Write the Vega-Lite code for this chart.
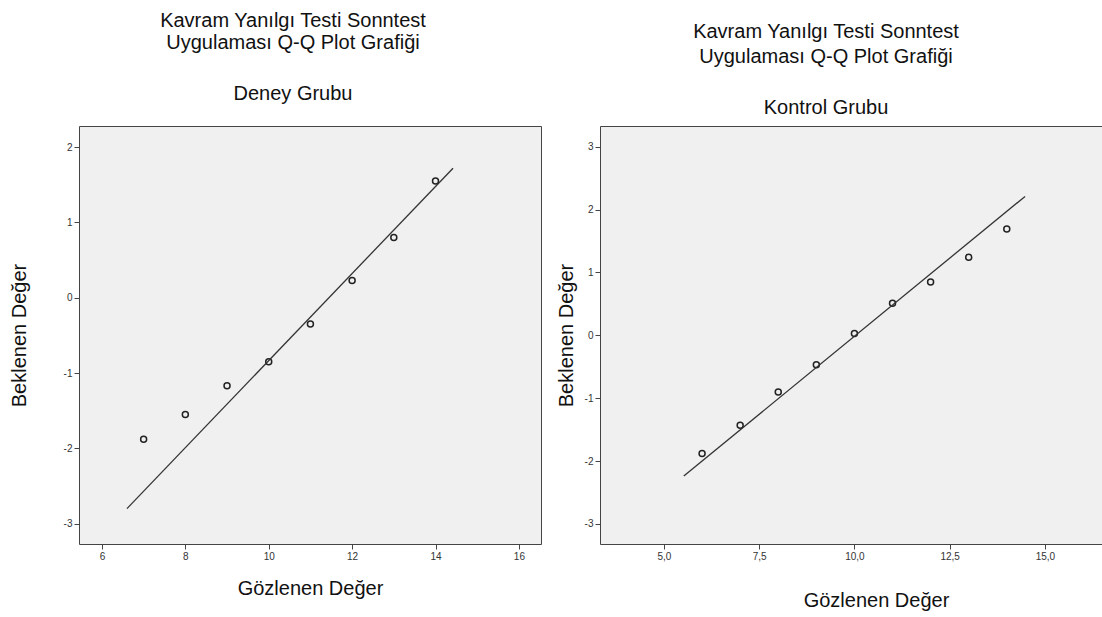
{
  "$schema": "https://vega.github.io/schema/vega-lite/v6.json",
  "padding": {"left": 8, "top": 10, "right": 0, "bottom": 0},
  "background": "white",
  "bounds": "flush",
  "spacing": 59,
  "datasets": {
    "deney": [
      {"gozlenen": 7, "beklenen": -1.88},
      {"gozlenen": 8, "beklenen": -1.55},
      {"gozlenen": 9, "beklenen": -1.17},
      {"gozlenen": 10, "beklenen": -0.85},
      {"gozlenen": 11, "beklenen": -0.35},
      {"gozlenen": 12, "beklenen": 0.23},
      {"gozlenen": 13, "beklenen": 0.8},
      {"gozlenen": 14, "beklenen": 1.55}
    ],
    "deneyLine": [
      {"gozlenen": 6.6, "beklenen": -2.8},
      {"gozlenen": 14.42, "beklenen": 1.72}
    ],
    "kontrol": [
      {"gozlenen": 6, "beklenen": -1.88},
      {"gozlenen": 7, "beklenen": -1.43},
      {"gozlenen": 8, "beklenen": -0.9},
      {"gozlenen": 9, "beklenen": -0.47},
      {"gozlenen": 10, "beklenen": 0.03},
      {"gozlenen": 11, "beklenen": 0.51},
      {"gozlenen": 12, "beklenen": 0.85},
      {"gozlenen": 13, "beklenen": 1.24},
      {"gozlenen": 14, "beklenen": 1.69}
    ],
    "kontrolLine": [
      {"gozlenen": 5.52, "beklenen": -2.24},
      {"gozlenen": 14.48, "beklenen": 2.21}
    ]
  },
  "config": {
    "font": "Liberation Sans",
    "view": {"fill": "#F0F0F0", "stroke": "#444444", "strokeWidth": 1},
    "axis": {
      "grid": false,
      "domain": false,
      "tickColor": "#444444",
      "tickSize": 5,
      "labelFont": "Liberation Sans",
      "labelFontSize": 10,
      "labelColor": "#333333",
      "titleFont": "Liberation Sans",
      "titleFontSize": 20,
      "titleFontWeight": "normal",
      "titleColor": "#111111"
    },
    "title": {
      "font": "Liberation Sans",
      "fontSize": 20,
      "fontWeight": "normal",
      "color": "#111111",
      "subtitleFont": "Liberation Sans",
      "subtitleFontSize": 20,
      "subtitleColor": "#111111",
      "anchor": "middle"
    }
  },
  "hconcat": [
    {
      "width": 462,
      "height": 418,
      "title": {
        "text": ["Kavram Yanılgı Testi Sonntest", "Uygulaması Q-Q Plot Grafiği"],
        "subtitle": "Deney Grubu",
        "lineHeight": 22,
        "subtitlePadding": 31,
        "offset": 22,
        "dx": -17
      },
      "layer": [
        {
          "data": {"name": "deney"},
          "mark": {"type": "point", "shape": "circle", "filled": false, "color": "#222222", "size": 36, "strokeWidth": 1.5, "opacity": 1},
          "encoding": {
            "x": {"field": "gozlenen", "type": "quantitative", "scale": {"domain": [5.45, 16.53], "nice": false, "zero": false}, "axis": {"values": [6, 8, 10, 12, 14, 16], "title": "Gözlenen Değer", "titlePadding": 17}},
            "y": {"field": "beklenen", "type": "quantitative", "scale": {"domain": [-3.27, 2.28], "nice": false, "zero": false}, "axis": {"values": [-3, -2, -1, 0, 1, 2], "labelExpr": "datum.value < 0 ? '-' + abs(datum.value) : '' + datum.value", "title": "Beklenen Değer", "titlePadding": 34}}
          }
        },
        {
          "data": {"name": "deneyLine"},
          "mark": {"type": "line", "color": "#333333", "strokeWidth": 1.3},
          "encoding": {
            "x": {"field": "gozlenen", "type": "quantitative"},
            "y": {"field": "beklenen", "type": "quantitative"}
          }
        }
      ]
    },
    {
      "width": 502,
      "height": 418,
      "title": {
        "text": ["Kavram Yanılgı Testi Sonntest", "Uygulaması Q-Q Plot Grafiği"],
        "subtitle": "Kontrol Grubu",
        "lineHeight": 25,
        "subtitlePadding": 31,
        "offset": 8,
        "dx": -25
      },
      "layer": [
        {
          "data": {"name": "kontrol"},
          "mark": {"type": "point", "shape": "circle", "filled": false, "color": "#222222", "size": 36, "strokeWidth": 1.5, "opacity": 1},
          "encoding": {
            "x": {"field": "gozlenen", "type": "quantitative", "scale": {"domain": [3.32, 16.5], "nice": false, "zero": false}, "axis": {"values": [5, 7.5, 10, 12.5, 15], "labelExpr": "replace(format(datum.value, '.1f'), '.', ',')", "title": "Gözlenen Değer", "titlePadding": 29, "titleX": 276}},
            "y": {"field": "beklenen", "type": "quantitative", "scale": {"domain": [-3.32, 3.33], "nice": false, "zero": false}, "axis": {"values": [-3, -2, -1, 0, 1, 2, 3], "labelExpr": "datum.value < 0 ? '-' + abs(datum.value) : '' + datum.value", "title": "Beklenen Değer", "titlePadding": 8}}
          }
        },
        {
          "data": {"name": "kontrolLine"},
          "mark": {"type": "line", "color": "#333333", "strokeWidth": 1.3},
          "encoding": {
            "x": {"field": "gozlenen", "type": "quantitative"},
            "y": {"field": "beklenen", "type": "quantitative"}
          }
        }
      ]
    }
  ]
}
